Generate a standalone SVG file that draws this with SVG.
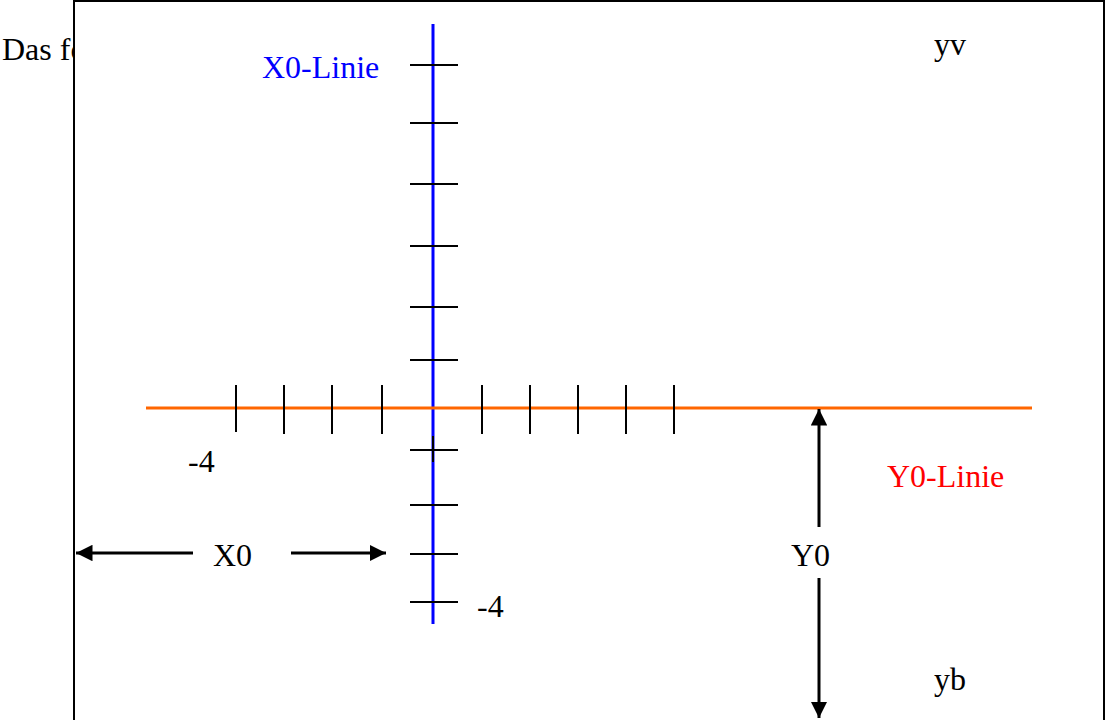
<svg xmlns="http://www.w3.org/2000/svg" width="1106" height="720" viewBox="0 0 1106 720">
<style>
text{font-family:"Liberation Serif","Times New Roman",serif;font-size:32px;fill:#000}
.tick{stroke:#000;stroke-width:2}
.arr{stroke:#000;stroke-width:3;fill:none}
</style>
<defs>
<marker id="ah" viewBox="0 0 10 10" refX="10" refY="5" markerWidth="5.5" markerHeight="5.5" markerUnits="strokeWidth" orient="auto">
<path d="M0,0 L10,5 L0,10 z" fill="#000"/>
</marker>
</defs>
<rect width="1106" height="720" fill="#fff"/>
<text x="2" y="60">Das fo</text>
<rect id="frame" x="74" y="1" width="1030" height="730" fill="#fff" stroke="#000" stroke-width="2"/>
<g id="x0-line">
<line x1="433" y1="24" x2="433" y2="624" stroke="#0000ff" stroke-width="3"/>
<g class="tick">
<line x1="410" y1="65" x2="458" y2="65"/>
<line x1="410" y1="123" x2="458" y2="123"/>
<line x1="410" y1="184" x2="458" y2="184"/>
<line x1="410" y1="246" x2="458" y2="246"/>
<line x1="410" y1="307" x2="458" y2="307"/>
<line x1="410" y1="360" x2="458" y2="360"/>
<line x1="410" y1="450" x2="458" y2="450"/>
<line x1="410" y1="505" x2="458" y2="505"/>
<line x1="410" y1="554" x2="458" y2="554"/>
<line x1="410" y1="602" x2="458" y2="602"/>
</g>
</g>
<g id="y0-line">
<line x1="146" y1="408" x2="1032" y2="408" stroke="#ff6600" stroke-width="3"/>
<g class="tick">
<line x1="236" y1="385" x2="236" y2="432"/>
<line x1="284" y1="385" x2="284" y2="434"/>
<line x1="332" y1="385" x2="332" y2="434"/>
<line x1="382" y1="385" x2="382" y2="434"/>
<line x1="433" y1="436" x2="433" y2="462"/>
<line x1="482" y1="385" x2="482" y2="434"/>
<line x1="530" y1="385" x2="530" y2="434"/>
<line x1="578" y1="385" x2="578" y2="434"/>
<line x1="626" y1="385" x2="626" y2="434"/>
<line x1="674" y1="385" x2="674" y2="434"/>
</g>
</g>
<g id="labels">
<text x="262" y="78" style="fill:#0000ff">X0-Linie</text>
<text x="887" y="487" style="fill:#ff0000">Y0-Linie</text>
<text x="188" y="472">-4</text>
<text x="477" y="617">-4</text>
<text x="213" y="566">X0</text>
<text x="791" y="566">Y0</text>
<text x="934" y="55">yv</text>
<text x="934" y="690">yb</text>
</g>
<g id="connectors">
<line class="arr" x1="193" y1="553" x2="76" y2="553" marker-end="url(#ah)"/>
<line class="arr" x1="291" y1="553" x2="386" y2="553" marker-end="url(#ah)"/>
<line class="arr" x1="819" y1="527" x2="819" y2="409" marker-end="url(#ah)"/>
<line class="arr" x1="819" y1="578" x2="819" y2="718" marker-end="url(#ah)"/>
</g>
</svg>
